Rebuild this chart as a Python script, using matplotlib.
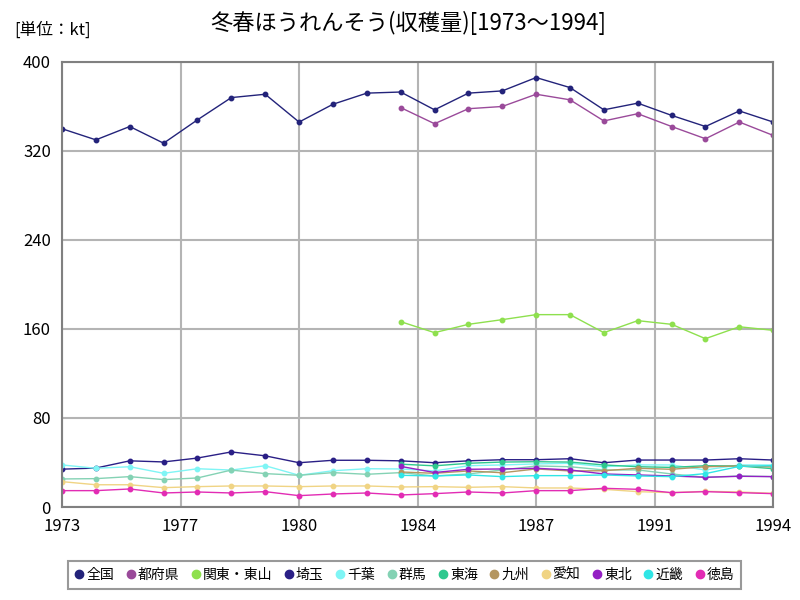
import numpy as np
import matplotlib.pyplot as plt

plt.rcParams['font.family'] = ['Noto Sans CJK JP', 'DejaVu Sans']

years = np.arange(1973, 1995)
years_b = np.arange(1983, 1995)

# 収穫量 (kt)
zenkoku = [340, 330, 342, 327, 348, 368, 371, 346, 362, 372, 373, 357,
           372, 374, 386, 377, 357, 363, 352, 342, 356, 346]
saitama = [34, 35, 41.5, 40.5, 44, 49.5, 46, 39.8, 42, 42, 41.5, 39.8,
           41.5, 42.5, 42.5, 43.4, 39.8, 42.2, 42.2, 42.2, 43.4, 42.2]
chiba = [37.8, 34.8, 36.2, 30.3, 34.4, 33.2, 37.1, 28.5, 32.6, 34.4, 34.2, 32.4,
         37.1, 37.8, 38.7, 39.3, 36.2, 37.8, 37.8, 33.3, 37.8, 37.8]
gunma = [25.2, 25.5, 27.3, 24.6, 26.1, 33.2, 30, 28.5, 30.9, 29.4, 30.9, 27.9,
         29.7, 33.3, 36.9, 36.2, 33.3, 33.3, 29.7, 26.7, 27.9, 27.3]
aichi = [22.8, 20, 20, 17.4, 18.3, 18.9, 18.9, 18.3, 18.9, 18.9, 18, 18.3,
         17.7, 18.3, 17.1, 17.1, 15.9, 13.8, 12.9, 14.1, 13.5, 12.3]
tokushima = [14.7, 14.7, 16.2, 12.6, 13.5, 12.6, 13.8, 10.2, 11.7, 12.6, 10.8, 12,
             13.5, 12.6, 14.7, 14.7, 16.8, 15.9, 12.9, 13.8, 12.9, 12]

todofuken = [359, 344.5, 358, 360, 371, 366, 347, 353.5, 342, 331, 346, 334]
kanto = [166.6, 156.7, 164.2, 168.4, 172.9, 172.9, 156.7, 167.5, 164.2, 151.3, 162, 158.8]
tokai = [38.5, 37, 39.3, 40.4, 40.7, 40.4, 37.8, 36.2, 35.6, 37.1, 36.9, 34.4]
kyushu = [31.5, 30.3, 32.4, 30.8, 34.2, 32.4, 32.6, 34.8, 33.9, 36.2, 36.9, 36]
tohoku = [36.5, 31, 33.9, 34.2, 34.8, 33.3, 29.7, 28.8, 27.9, 26.7, 27.6, 27.3]
kinki = [28.5, 27.9, 28.8, 27.3, 28.2, 28.2, 28.8, 27.9, 27.3, 30, 36.5, 37.2]

series = [
    ('全国', years, zenkoku, '#23237a'),
    ('都府県', years_b, todofuken, '#9a4a9a'),
    ('関東・東山', years_b, kanto, '#8ee04e'),
    ('埼玉', years, saitama, '#2a1f86'),
    ('千葉', years, chiba, '#7ff5f5'),
    ('群馬', years, gunma, '#84d2b4'),
    ('東海', years_b, tokai, '#2ec88e'),
    ('九州', years_b, kyushu, '#b49660'),
    ('愛知', years, aichi, '#f0d484'),
    ('東北', years_b, tohoku, '#9420c4'),
    ('近畿', years_b, kinki, '#2fe6e6'),
    ('徳島', years, tokushima, '#e22cb4'),
]

fig = plt.figure(figsize=(8, 6), dpi=100)
ax = fig.add_axes([0.0775, 0.155, 0.889, 0.7417])

for name, x, y, c in series:
    ax.plot(x, y, color=c, lw=1, marker='o', ms=3.2, label=name)

ax.set_xlim(1973, 1994)
ax.set_ylim(0, 400)
xt = 1973 + 3.5 * np.arange(7)
ax.set_xticks(xt)
ax.set_xticklabels(['1973', '1977', '1980', '1984', '1987', '1991', '1994'], fontsize=12)
ax.set_yticks([0, 80, 160, 240, 320, 400])
ax.tick_params(axis='y', labelsize=12)
ax.tick_params(length=0, pad=8)
ax.grid(True, color='#b4b4b4', lw=1.5)
for s in ax.spines.values():
    s.set_color('#808080')
    s.set_linewidth(1.5)

fig.text(0.51, 0.962, '冬春ほうれんそう(収穫量)[1973〜1994]', ha='center', va='center', fontsize=16)
fig.text(0.018, 0.95, '[単位：kt]', ha='left', va='center', fontsize=12)

leg = fig.legend(loc='center', bbox_to_anchor=(0.506, 0.042), ncol=12, fontsize=10,
                 handlelength=0.6, handletextpad=0.2, columnspacing=0.9,
                 frameon=True, fancybox=False, borderpad=0.5)
leg.get_frame().set_edgecolor('#808080')
leg.get_frame().set_linewidth(1.5)
for h in leg.legend_handles:
    h.set_linestyle('')
    h.set_markersize(6)

fig.savefig('out.png', dpi=100)
